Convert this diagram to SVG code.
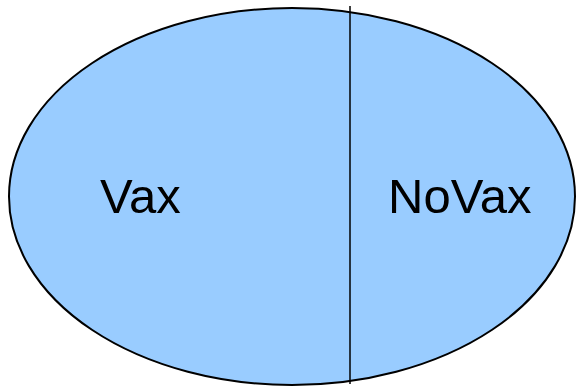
<svg xmlns="http://www.w3.org/2000/svg" width="578" height="387" viewBox="0 0 578 387">
  <style>
    .region { fill: #99ccff; stroke: #000000; stroke-width: 2; }
    .divider { stroke: #000000; stroke-width: 1.5; fill: none; }
    .label { font-family: "Liberation Sans", Arial, sans-serif; font-size: 49px; fill: #000000; }
  </style>
  <g id="set">
    <ellipse class="region" cx="292" cy="196.5" rx="283" ry="188.5"/>
  </g>
  <g id="connectors">
    <line class="divider" x1="350" y1="6" x2="350" y2="384"/>
  </g>
  <g id="vax">
    <text class="label" x="100" y="213">Vax</text>
  </g>
  <g id="novax">
    <text class="label" x="388" y="213">NoVax</text>
  </g>
</svg>
